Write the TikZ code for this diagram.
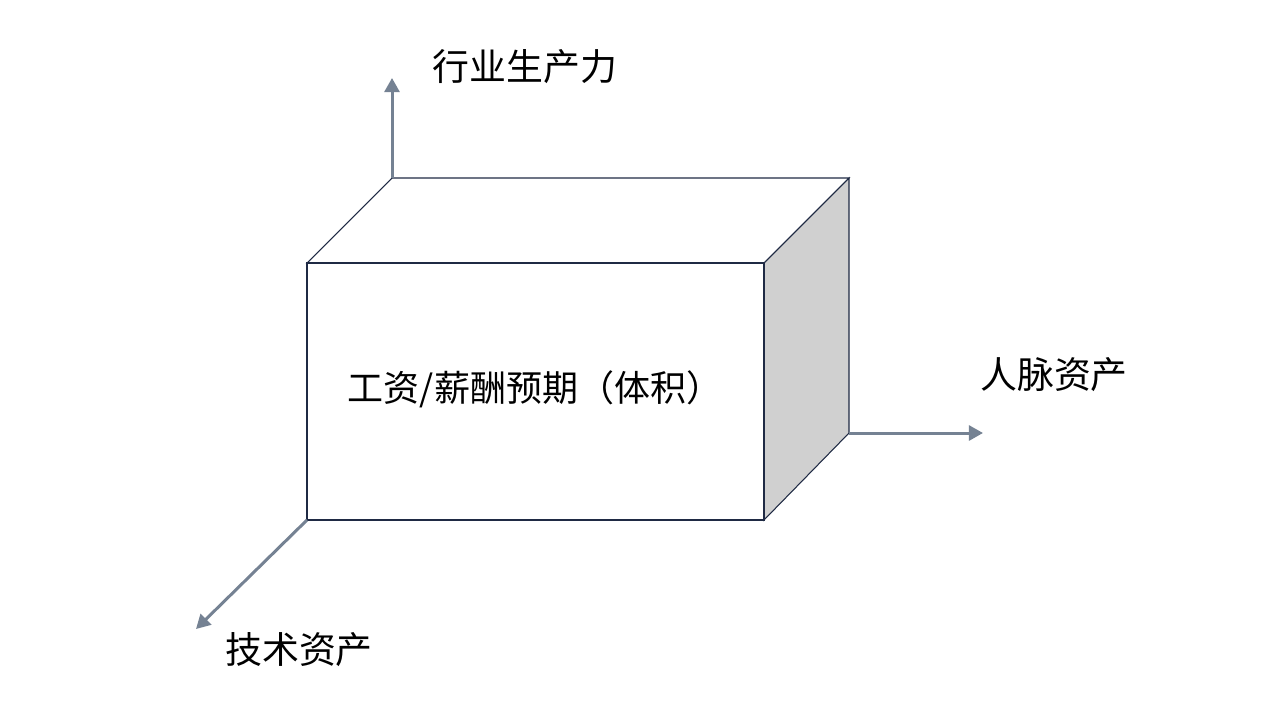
\documentclass[tikz,border=0pt]{standalone}
\usepackage{fontspec}
\setmainfont{Noto Sans CJK SC}
\usepackage{tikz}
\usetikzlibrary{arrows.meta,calc}
\definecolor{edge}{HTML}{1F2A44}
\definecolor{axis}{HTML}{758293}
\definecolor{side}{HTML}{D0D0D0}
\newcommand{\lbl}{\fontsize{21pt}{25pt}\selectfont}

\begin{document}
\begin{tikzpicture}[x=0.02cm,y=-0.02cm,
    boxline/.style={draw=edge, line width=0.6pt, line join=miter},
    axisarrow/.style={draw=axis, line width=1.7pt, -{Triangle[length=8pt,width=8.5pt]}},
    axislabel/.style={inner sep=0pt, text=black, font=\lbl}]
  \useasboundingbox (0,0) rectangle (1280,720);
  % corners of the box
  \coordinate (fbl) at (307,520);
  \coordinate (ftl) at (307,263);
  \coordinate (ftr) at (764,263);
  \coordinate (fbr) at (764,520);
  \coordinate (btl) at (392,178);
  \coordinate (btr) at (849,178);
  \coordinate (bbr) at (849,433);
  % axis ends
  \coordinate (upend) at (392,78);
  \coordinate (rightend) at (983,433);
  \coordinate (downend) at (196,629);
  % faces
  \path[boxline, fill=white] (ftl) -- (btl) -- (btr) -- (ftr) -- cycle;
  \path[boxline, fill=side] (ftr) -- (btr) -- (bbr) -- (fbr) -- cycle;
  \path[boxline, fill=white] (fbl) rectangle (ftr);
  % axes
  \draw[axisarrow] (btl) -- (upend);
  \draw[axisarrow] (bbr) -- (rightend);
  \draw[axisarrow] (fbl) -- (downend);
  % labels
  \node[axislabel] (prod) at (525,67) {行业生产力};
  \node[axislabel] (net) at (1054,375) {人脉资产};
  \node[axislabel] (tech) at (299,650) {技术资产};
  \node[axislabel, font=\fontsize{20.5pt}{24pt}\selectfont] (vol) at (535,389) {工资/薪酬预期（体积）};
\end{tikzpicture}
\end{document}
